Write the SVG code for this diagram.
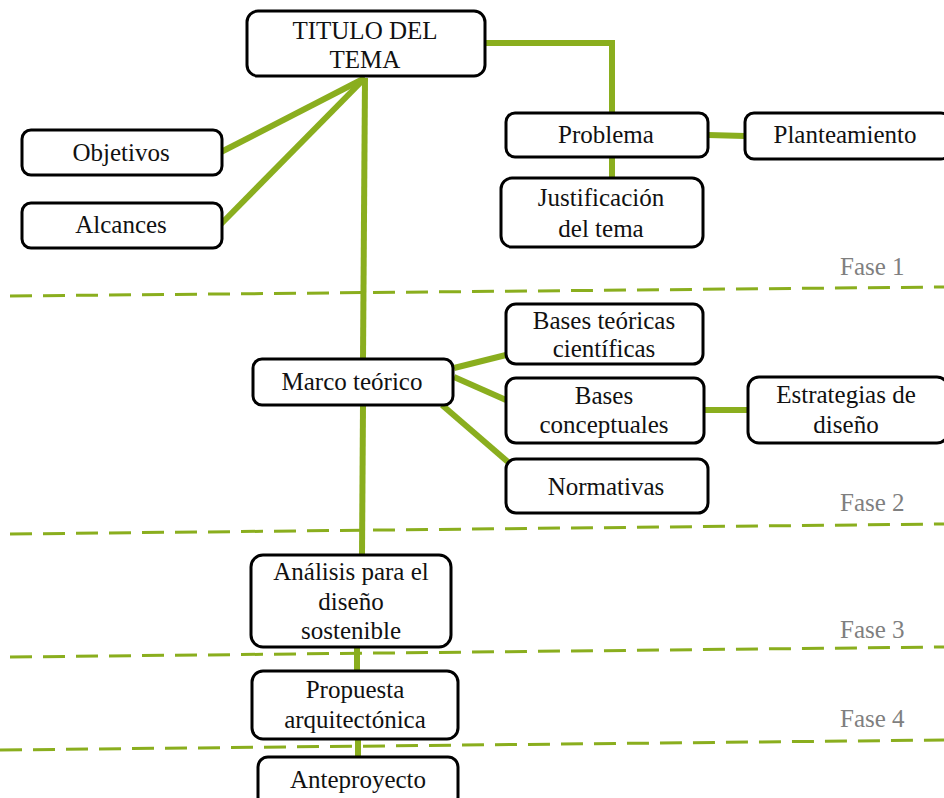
<svg xmlns="http://www.w3.org/2000/svg" width="944" height="798" viewBox="0 0 944 798">
<style>
.box{fill:#fff;stroke:#000;stroke-width:3}
.t{font-family:"Liberation Serif","Times New Roman",serif;font-size:25px;fill:#111;text-anchor:middle}
.f{font-family:"Liberation Serif","Times New Roman",serif;font-size:25px;fill:#7f7f7f}
.c{stroke:#8aae1e;stroke-width:6;fill:none}
.d{stroke:#8aae1e;stroke-width:3;fill:none;stroke-dasharray:22 11}
</style>
<rect width="944" height="798" fill="#fff"/>
<g id="phases">
<line class="d" x1="10" y1="296" x2="944" y2="287"/>
<line class="d" x1="10" y1="534" x2="944" y2="524"/>
<line class="d" x1="10" y1="657" x2="944" y2="647"/>
<line class="d" x1="0" y1="750" x2="944" y2="740"/>
<text class="f" x="840" y="275">Fase 1</text>
<text class="f" x="840" y="511">Fase 2</text>
<text class="f" x="840" y="638">Fase 3</text>
<text class="f" x="840" y="727">Fase 4</text>
</g>
<g id="connectors">
<polyline class="c" points="485,43 612,43 612,113"/>
<line class="c" x1="612" y1="157" x2="612" y2="178"/>
<line class="c" x1="708" y1="135" x2="745" y2="136"/>
<line class="c" x1="365" y1="78" x2="221" y2="152"/>
<line class="c" x1="365" y1="78" x2="221" y2="224"/>
<line class="c" x1="365" y1="78" x2="363" y2="359"/>
<line class="c" x1="363" y1="405" x2="362" y2="555"/>
<line class="c" x1="357" y1="647" x2="357" y2="671"/>
<line class="c" x1="358" y1="739" x2="358" y2="757"/>
<line class="c" x1="454" y1="368" x2="506" y2="355"/>
<line class="c" x1="454" y1="377" x2="506" y2="400"/>
<line class="c" x1="442" y1="405" x2="508" y2="462"/>
<line class="c" x1="704" y1="410" x2="748" y2="410"/>
</g>
<g id="titulo"><rect class="box" x="247" y="11" width="238" height="65" rx="11"/><text class="t" x="365" y="39">TITULO DEL</text><text class="t" x="365" y="68">TEMA</text></g>
<g id="objetivos"><rect class="box" x="22" y="130" width="200" height="45" rx="9"/><text class="t" x="121" y="161">Objetivos</text></g>
<g id="alcances"><rect class="box" x="22" y="203" width="200" height="45" rx="9"/><text class="t" x="121" y="233">Alcances</text></g>
<g id="problema"><rect class="box" x="506" y="113" width="202" height="44" rx="9"/><text class="t" x="606" y="143">Problema</text></g>
<g id="planteamiento"><rect class="box" x="745" y="113" width="205" height="46" rx="9"/><text class="t" x="845" y="143">Planteamiento</text></g>
<g id="justificacion"><rect class="box" x="501" y="178" width="202" height="69" rx="11"/><text class="t" x="601" y="206">Justificación</text><text class="t" x="601" y="237">del tema</text></g>
<g id="marco"><rect class="box" x="253" y="359" width="200" height="46" rx="9"/><text class="t" x="352" y="390">Marco teórico</text></g>
<g id="bases-teoricas"><rect class="box" x="506" y="304" width="197" height="60" rx="10"/><text class="t" x="604" y="329">Bases teóricas</text><text class="t" x="604" y="357">científicas</text></g>
<g id="bases-conceptuales"><rect class="box" x="506" y="378" width="198" height="65" rx="10"/><text class="t" x="604" y="404">Bases</text><text class="t" x="604" y="433">conceptuales</text></g>
<g id="normativas"><rect class="box" x="506" y="459" width="202" height="54" rx="10"/><text class="t" x="606" y="495">Normativas</text></g>
<g id="estrategias"><rect class="box" x="748" y="377" width="200" height="66" rx="11"/><text class="t" x="846" y="403">Estrategias de</text><text class="t" x="846" y="433">diseño</text></g>
<g id="analisis"><rect class="box" x="251" y="555" width="200" height="92" rx="12"/><text class="t" x="351" y="580">Análisis para el</text><text class="t" x="351" y="610">diseño</text><text class="t" x="351" y="639">sostenible</text></g>
<g id="propuesta"><rect class="box" x="252" y="671" width="206" height="68" rx="11"/><text class="t" x="355" y="698">Propuesta</text><text class="t" x="355" y="728">arquitectónica</text></g>
<g id="anteproyecto"><rect class="box" x="258" y="757" width="200" height="50" rx="10"/><text class="t" x="358" y="788">Anteproyecto</text></g>
</svg>
